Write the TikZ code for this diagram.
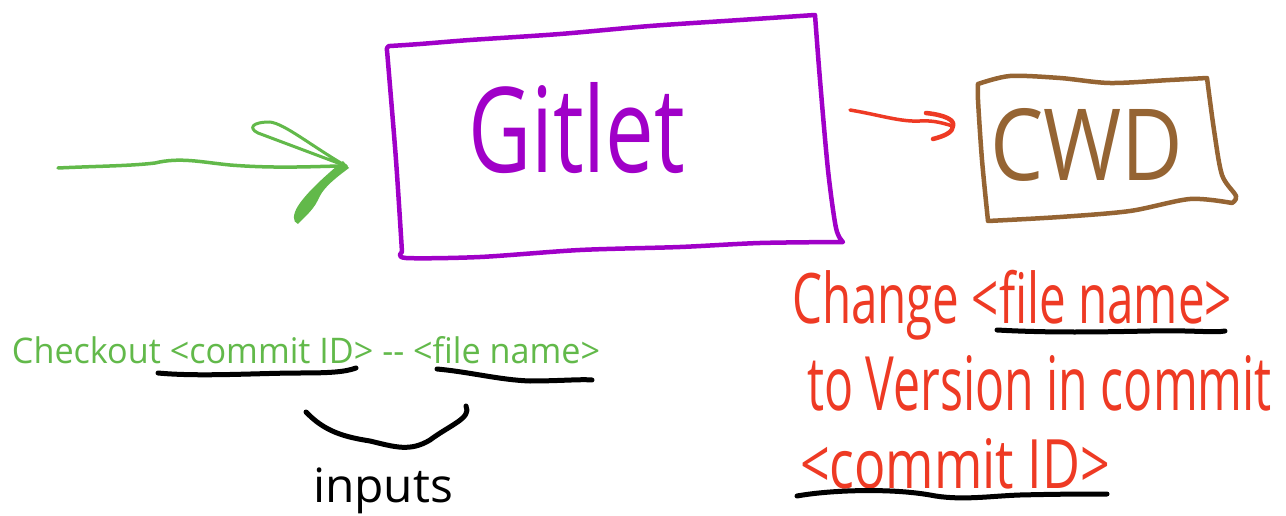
\documentclass[tikz,border=0pt]{standalone}
\usepackage{fontspec}
\usepackage{graphicx}
\newfontfamily\handfont{Open Sans}
\definecolor{gitpurple}{HTML}{A000C8}
\definecolor{cwdbrown}{HTML}{956433}
\definecolor{arrgreen}{HTML}{62B94A}
\definecolor{arrred}{HTML}{EE3A24}
\begin{document}
\begin{tikzpicture}[x=1pt,y=-1pt,
  every node/.style={inner sep=0pt,outer sep=0pt,anchor=north west},
  hand/.style={line cap=round,line join=round},
  boxline/.style={hand,line width=4.5pt},
  uline/.style={hand,line width=5pt,black},
  txt/.style={font=\handfont}]
\useasboundingbox (0,0) rectangle (1286,516);
\fill[white] (0,0) rectangle (1286,516);

% Gitlet box
\draw[boxline,gitpurple] plot[smooth] coordinates {(390,46) (420,44) (470,40) (560,34) (650,26) (740,20) (815,15)}
  -- plot[smooth] coordinates {(815,15) (820,80) (828,170) (836,228) (843,242)}
  -- plot[smooth] coordinates {(843,242) (760,243) (680,247) (580,250) (480,257) (406,258) (402,252)}
  -- plot[smooth] coordinates {(402,252) (396,160) (388,62) (387,48) (390,46)};
\node[txt,text=gitpurple] (gitlet) at (468,82) {\resizebox{217pt}{90pt}{Gitlet}};

% CWD box
\draw[boxline,cwdbrown] plot[smooth] coordinates {(978,84) (1010,76) (1060,78) (1110,83) (1170,80) (1207,78)}
  -- plot[smooth] coordinates {(1207,78) (1214,130) (1222,175) (1236,196) (1232,203)}
  -- plot[smooth] coordinates {(1232,203) (1190,199) (1130,211) (1060,217) (988,221)}
  -- plot[smooth] coordinates {(988,221) (982,160) (978,100) (978,84)};
\node[txt,text=cwdbrown] (cwd) at (990,108) {\resizebox{193pt}{72pt}{CWD}};

% green input arrow
\coordinate (gstart) at (58,168);
\coordinate (gtip) at (346,166);
\draw[hand,arrgreen,line width=3.5pt] (gstart) .. controls (100,166) and (130,166) .. (155,163)
  .. controls (180,157) and (200,162) .. (230,165) .. controls (280,169) and (320,166) .. (gtip);
\draw[hand,arrgreen,line width=3pt] (gtip) -- (258,133) .. controls (248,128) and (252,122) .. (270,122)
  .. controls (285,124) and (310,145) .. (gtip);
\fill[arrgreen] (343,161) -- (349,168) .. controls (330,182) and (322,190) .. (318,200)
  .. controls (312,212) and (303,218) .. (298,224) .. controls (292,222) and (293,214) .. (298,206)
  .. controls (305,195) and (320,180) .. (343,161) -- cycle;

% red output arrow
\coordinate (rstart) at (850,110);
\coordinate (rtip) at (953,126);
\draw[hand,arrred,line width=3.5pt] (rstart) .. controls (880,115) and (900,122) .. (920,121)
  .. controls (935,120) and (945,124) .. (rtip);
\draw[hand,arrred,line width=4.5pt] (926,113) .. controls (945,115) and (955,120) .. (rtip)
  .. controls (953,132) and (945,136) .. (933,139);

% green command text
\node[txt,text=arrgreen] (cmd) at (12,336) {\resizebox{588pt}{27pt}{Checkout \textless commit ID\textgreater\ -{}- \textless file name\textgreater}};
\coordinate (u1a) at (158,373); \coordinate (u1b) at (356,368);
\draw[uline] (u1a) .. controls (200,377) and (260,373) .. (300,373) .. controls (330,373) and (345,372) .. (u1b);
\coordinate (u2a) at (437,369); \coordinate (u2b) at (592,380);
\draw[uline] (u2a) .. controls (470,372) and (500,380) .. (530,381) .. controls (560,381) and (580,379) .. (u2b);

% brace and inputs
\coordinate (br1) at (306,412); \coordinate (br2) at (466,406);
\draw[uline] (br1) .. controls (325,432) and (345,437) .. (370,441) .. controls (395,447) and (410,452) .. (430,440)
  .. controls (450,425) and (472,418) .. (br2);
\node[txt,text=black] (inputs) at (313,468) {\resizebox*{140pt}{46pt}{inputs}};

% red description
\node[txt,text=arrred] (d1) at (792,270) {\resizebox*{440pt}{70pt}{Change \textless file name\textgreater}};
\node[txt,text=arrred] (d2) at (807,355) {\resizebox{465pt}{55pt}{to Version in commit}};
\node[txt,text=arrred] (d3) at (800,438) {\resizebox{310pt}{50pt}{\textless commit ID\textgreater}};
\coordinate (u3a) at (997,330); \coordinate (u3b) at (1225,331);
\draw[uline] (u3a) .. controls (1050,333) and (1100,332) .. (1150,331) .. controls (1190,330) and (1215,333) .. (u3b);
\coordinate (u4a) at (797,496); \coordinate (u4b) at (1107,494);
\draw[uline] (u4a) .. controls (830,490) and (890,488) .. (930,495) .. controls (960,501) and (990,496) .. (1020,495)
  .. controls (1060,494) and (1090,494) .. (u4b);
\end{tikzpicture}
\end{document}
